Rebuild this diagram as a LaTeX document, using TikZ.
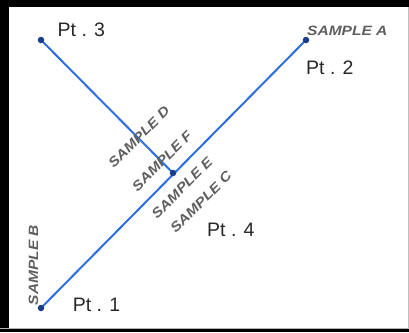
\documentclass[tikz,border=0pt]{standalone}
\usepackage{fontspec}
\usepackage{graphicx}
\setmainfont{Liberation Sans}
\definecolor{linblue}{RGB}{45,110,225}
\definecolor{dotblue}{RGB}{25,60,140}
\definecolor{smpgray}{RGB}{95,95,95}
\definecolor{ptblack}{RGB}{40,40,40}
\newcommand{\smptext}[1]{\scalebox{1.15}[1]{\bfseries\itshape #1}}
\tikzset{
  wire/.style={draw=linblue, line width=2pt},
  pdot/.style={circle, fill=dotblue, inner sep=0pt, minimum size=6.5pt},
  ptlabel/.style={inner sep=0pt, anchor=base west, text=ptblack, font=\fontsize{19.5}{20}\selectfont},
  smplabel/.style={inner sep=0pt, text=smpgray, font=\fontsize{13.5}{14}\selectfont}
}
\begin{document}
\begin{tikzpicture}[x=1pt, y=-1pt]
\useasboundingbox (0,0) rectangle (409,332);
\fill[white] (0,0) rectangle (409,332);
% frame
\fill[black] (0,0) rectangle (9,332);
\fill[black] (0,0) rectangle (409,7);
\fill[black] (0,329) rectangle (409,332);
\fill[gray!60] (0,327.8) rectangle (409,329);
\fill[gray!50] (408,7) rectangle (409,329);
% points
\coordinate (c1) at (41,308);
\coordinate (c2) at (306,40);
\coordinate (c3) at (41,40);
\coordinate (c4) at (173,173);
\draw[wire] (c1) -- (c2);
\draw[wire] (c3) -- (c4);
\node[pdot] (p1) at (c1) {};
\node[pdot] (p2) at (c2) {};
\node[pdot] (p3) at (c3) {};
\node[pdot] (p4) at (c4) {};
% point labels
\node[ptlabel] (l3) at (57.5,36.5) {Pt . 3};
\node[ptlabel] (l2) at (306,74) {Pt . 2};
\node[ptlabel] (l4) at (207,236) {Pt . 4};
\node[ptlabel] (l1) at (72.7,311.5) {Pt . 1};
% sample labels
\node[smplabel, anchor=base west] (sa) at (307,35) {\smptext{SAMPLE A}};
\node[smplabel, rotate=90, anchor=base] (sb) at (38,265) {\smptext{SAMPLE B}};
\node[smplabel, rotate=45] (sd) at (139,137) {\smptext{SAMPLE D}};
\node[smplabel, rotate=45] (sf) at (162,161) {\smptext{SAMPLE F}};
\node[smplabel, rotate=45] (se) at (182,188) {\smptext{SAMPLE E}};
\node[smplabel, rotate=45] (sc) at (201,202) {\smptext{SAMPLE C}};
\end{tikzpicture}
\end{document}
